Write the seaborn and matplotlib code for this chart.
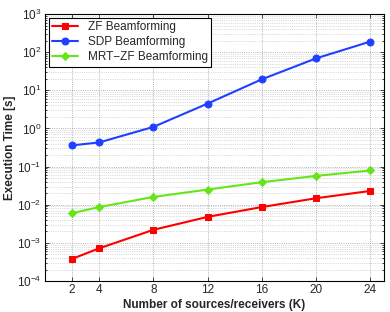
import pandas as pd
import matplotlib
matplotlib.use('Agg')
import matplotlib.pyplot as plt
import seaborn as sns
from matplotlib.ticker import LogLocator, NullFormatter

# Data
K = [2, 4, 8, 12, 16, 20, 24]
zf_time = [3.8e-4, 7.2e-4, 2.2e-3, 4.8e-3, 8.7e-3, 1.48e-2, 2.3e-2]
sdp_time = [0.36, 0.43, 1.1, 4.5, 19.5, 69, 190]
mrt_zf_time = [6.0e-3, 8.7e-3, 1.6e-2, 2.5e-2, 3.9e-2, 5.7e-2, 7.9e-2]
y_ticks = [1e-4, 1e-3, 1e-2, 1e-1, 1e0, 1e1, 1e2, 1e3]

series_names = ['ZF Beamforming', 'SDP Beamforming', 'MRT\u2212ZF Beamforming']
series_values = [zf_time, sdp_time, mrt_zf_time]
colors = ['#ff0000', '#2040ff', '#66e619']
markers = ['s', 'o', 'D']

df = pd.concat([pd.DataFrame({'K': K, 'time': v, 'method': n})
                for n, v in zip(series_names, series_values)])

sns.set_style('ticks')
plt.rcParams['font.family'] = ['Liberation Sans', 'DejaVu Sans']
plt.rcParams['mathtext.fontset'] = 'custom'
plt.rcParams['mathtext.rm'] = 'Liberation Sans'

fig = plt.figure(figsize=(3.9, 3.12), dpi=100)
ax = fig.add_axes([0.1154, 0.0994, 0.8692, 0.8556])

for name, col, mk in zip(series_names, colors, markers):
    sns.lineplot(data=df[df['method'] == name], x='K', y='time', ax=ax,
                 color=col, marker=mk, markersize=5 if mk != 'D' else 4.5,
                 markeredgecolor=col, linewidth=1.5, label=name)

ax.set_yscale('log')
ax.set_xlim(0, 25)
ax.set_ylim(y_ticks[0], y_ticks[-1])
ax.set_xticks(K)
ax.set_yticks(y_ticks)
ax.yaxis.set_minor_locator(LogLocator(base=10, subs=range(2, 10), numticks=100))
ax.yaxis.set_minor_formatter(NullFormatter())
ax.tick_params(which='both', direction='in', top=True, right=True, labelsize=8.5, width=0.6, pad=2.5)
ax.tick_params(which='major', length=3)
ax.tick_params(which='minor', length=1.5)
ax.grid(True, which='major', linestyle=':', color='#999999', linewidth=0.6)
ax.grid(True, which='minor', axis='y', linestyle=':', color='#bbbbbb', linewidth=0.5)
for s in ax.spines.values():
    s.set_linewidth(0.8)
    s.set_color('black')

ax.set_xlabel('Number of sources/receivers (K)', fontsize=8.5, fontweight='bold')
ax.set_ylabel('Execution Time [s]', fontsize=8.5, fontweight='bold')
ax.xaxis.set_label_coords(0.5, -0.068)
ax.yaxis.set_label_coords(-0.085, 0.5)

leg = ax.legend(loc='upper left', fontsize=8.5, frameon=True, fancybox=False,
                borderaxespad=0.3, handlelength=2.2, borderpad=0.3, labelspacing=0.25)
leg.get_frame().set_edgecolor('black')
leg.get_frame().set_linewidth(0.8)
leg.get_frame().set_alpha(1)

fig.savefig('out.png', dpi=100)
